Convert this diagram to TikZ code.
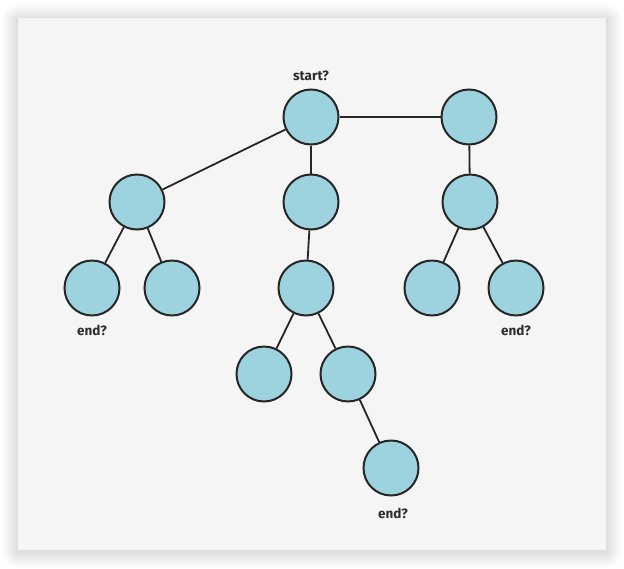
\documentclass[tikz,border=0pt]{standalone}
\usepackage{fontspec}
\setmainfont{Fira Sans}
\definecolor{nodefill}{RGB}{157,211,223}
\definecolor{panel}{RGB}{245,245,245}
\definecolor{lbltext}{RGB}{45,45,45}
\begin{document}
\begin{tikzpicture}[x=1pt,y=-1pt,
  tnode/.style={circle,draw=black!85,line width=2pt,fill=nodefill,minimum size=55pt,inner sep=0pt},
  edge/.style={draw=black!85,line width=1.8pt},
  lbl/.style={text=lbltext,font=\fontsize{13.5}{16}\selectfont\bfseries}]
\useasboundingbox (0,0) rectangle (624,568);
\fill[white] (0,0) rectangle (624,568);
\foreach \i in {1,...,16}{
  \fill[black,opacity=0.006,rounded corners=\i pt] (18-\i,18-\i+2) rectangle (606+\i,550+\i+2);
}
\fill[panel] (18,18) rectangle (606,550);
\node[tnode] (r) at (311,117) {};
\node[tnode] (rr) at (469,117) {};
\node[tnode] (a) at (137,202) {};
\node[tnode] (b) at (311,202) {};
\node[tnode] (c) at (470,202) {};
\node[tnode] (a1) at (92,288) {};
\node[tnode] (a2) at (172,288) {};
\node[tnode] (b1) at (306,288) {};
\node[tnode] (b11) at (264,374) {};
\node[tnode] (b12) at (348,374) {};
\node[tnode] (b121) at (391,468) {};
\node[tnode] (c1) at (432,288) {};
\node[tnode] (c2) at (516,288) {};
\draw[edge] (r) -- (rr);
\draw[edge] (r) -- (a);
\draw[edge] (r) -- (b);
\draw[edge] (rr) -- (c);
\draw[edge] (a) -- (a1);
\draw[edge] (a) -- (a2);
\draw[edge] (b) -- (b1);
\draw[edge] (b1) -- (b11);
\draw[edge] (b1) -- (b12);
\draw[edge] (b12) -- (b121);
\draw[edge] (c) -- (c1);
\draw[edge] (c) -- (c2);
\node[lbl] (ls) at (311,76) {start?};
\node[lbl] (l1) at (92,330) {end?};
\node[lbl] (l2) at (516,330) {end?};
\node[lbl] (l3) at (393,513) {end?};
\end{tikzpicture}
\end{document}
